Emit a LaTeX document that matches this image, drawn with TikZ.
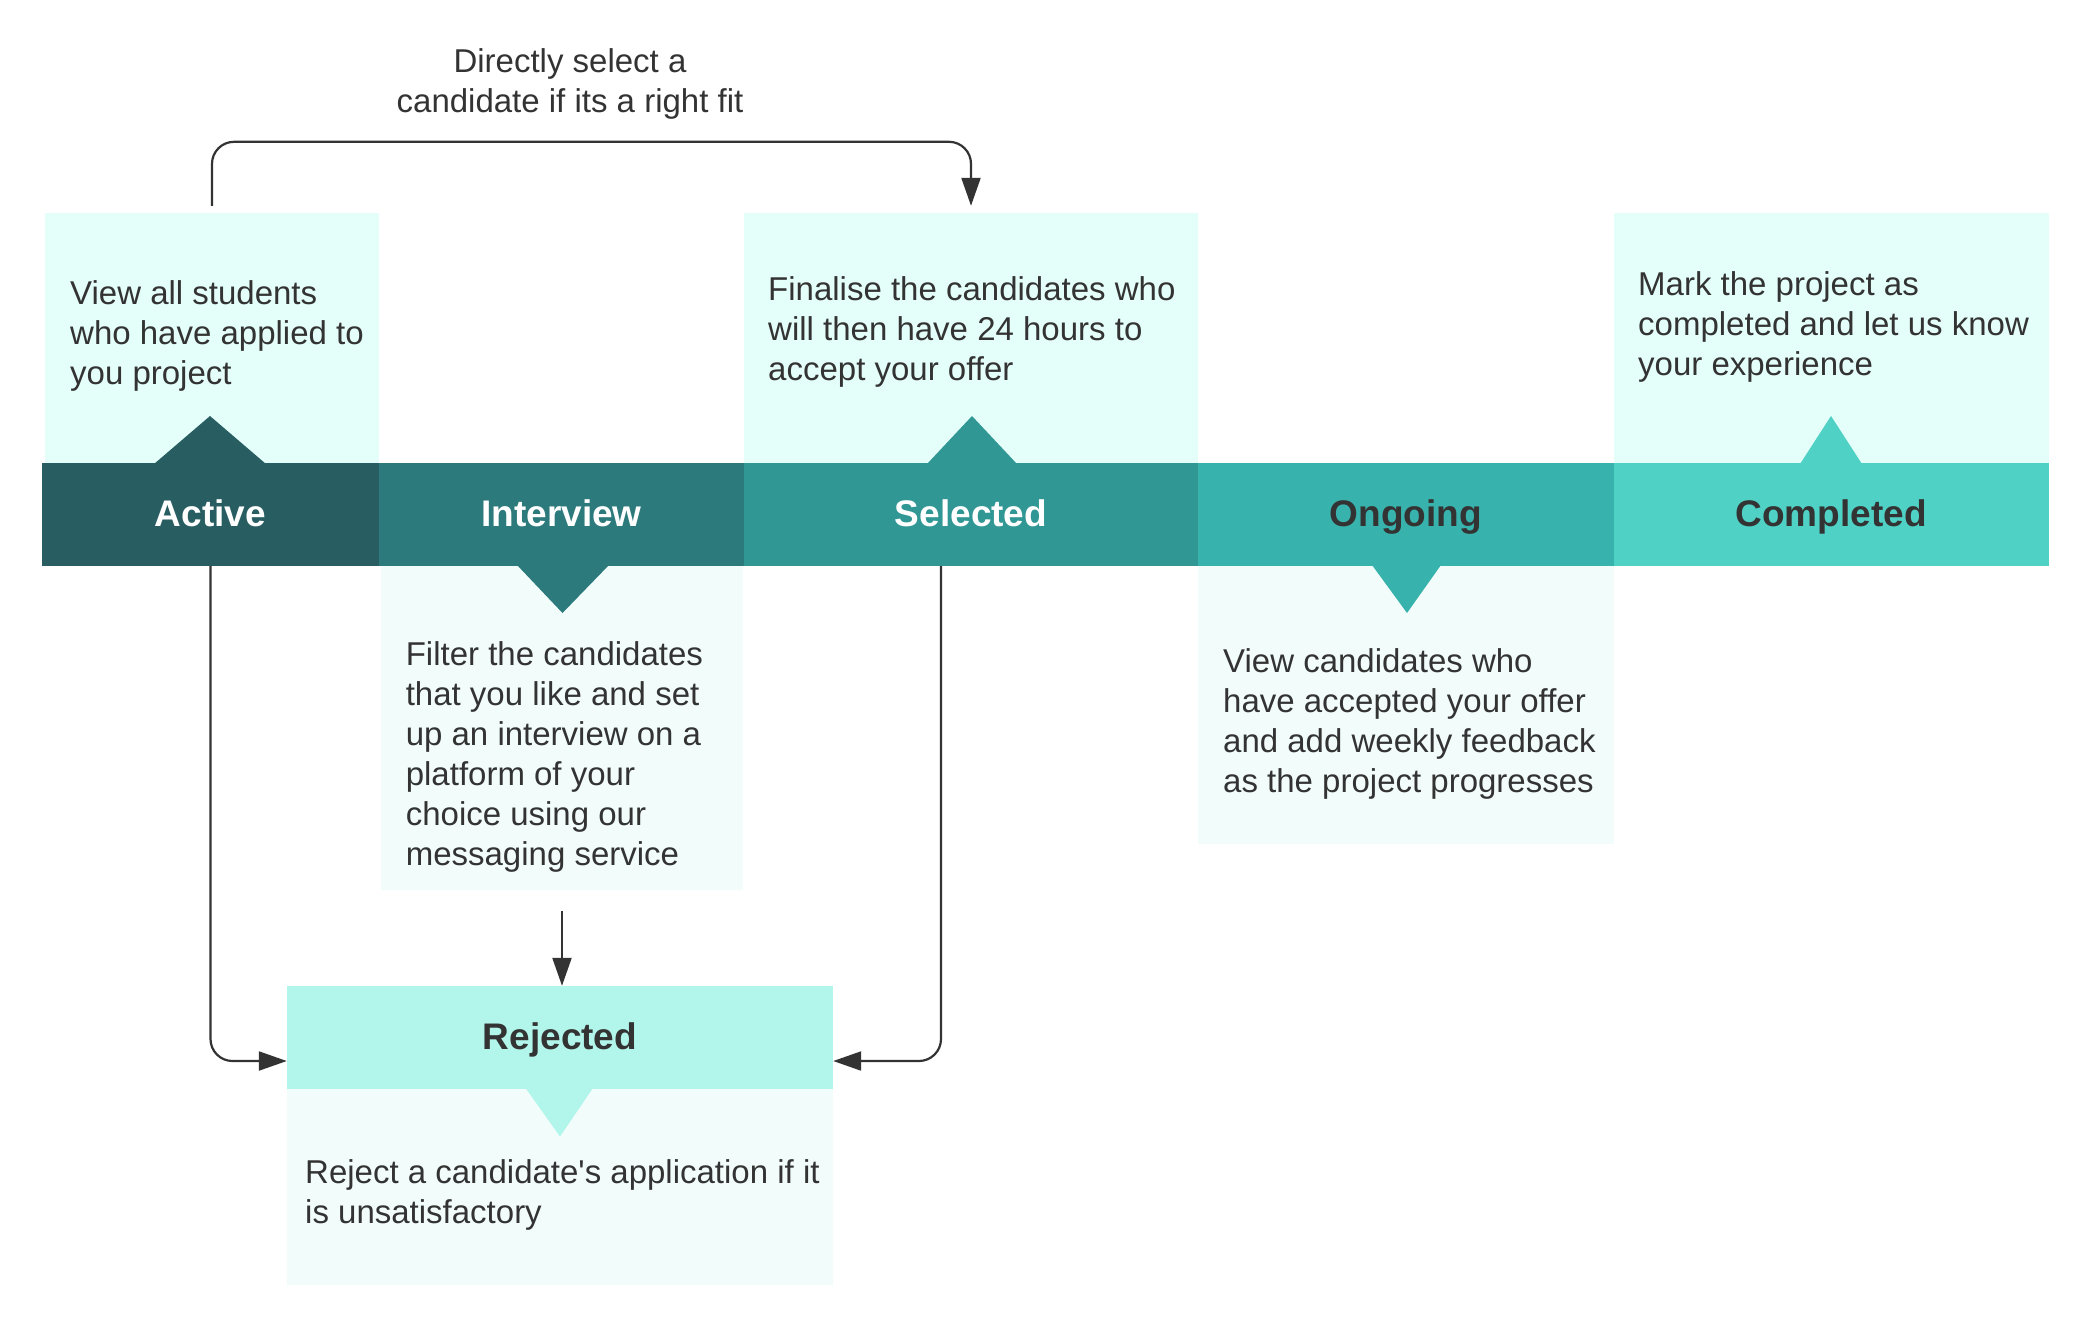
\documentclass[tikz,border=0pt]{standalone}
\usepackage{fontspec}
\setmainfont{Liberation Sans}
\usetikzlibrary{arrows.meta}
\definecolor{tealA}{HTML}{285E61}
\definecolor{tealB}{HTML}{2C7A7B}
\definecolor{tealC}{HTML}{319795}
\definecolor{tealD}{HTML}{38B2AC}
\definecolor{tealE}{HTML}{4FD1C5}
\definecolor{tealR}{HTML}{B2F5EA}
\definecolor{boxtop}{HTML}{E4FEF9}
\definecolor{boxbot}{HTML}{F2FDFB}
\definecolor{ink}{HTML}{333333}
\begin{document}
\begin{tikzpicture}[x=1pt,y=-1pt,
  seg/.style={rectangle, inner sep=0pt, minimum height=103pt,
    font=\fontsize{37}{44}\selectfont\bfseries, text height=26.5pt, text depth=3pt},
  panel/.style={rectangle, inner sep=0pt, draw=none},
  body/.style={anchor=base west, align=left, inner sep=0pt, text=ink,
    font=\fontsize{33}{40}\selectfont},
  conn/.style={draw=ink, line width=2.2pt, rounded corners=22pt,
    -{Triangle[length=28pt,width=19pt]}}]
\useasboundingbox (0,0) rectangle (2096,1326);

% panels
\node[panel, fill=boxtop, minimum width=334pt, minimum height=250pt] (abox) at (212,338) {};
\node[panel, fill=boxtop, minimum width=454pt, minimum height=250pt] (sbox) at (971,338) {};
\node[panel, fill=boxtop, minimum width=435pt, minimum height=250pt] (cbox) at (1831,338) {};
\node[panel, fill=boxbot, minimum width=362pt, minimum height=324pt] (ibox) at (562,728) {};
\node[panel, fill=boxbot, minimum width=415.5pt, minimum height=278pt] (obox) at (1405.75,705) {};
\node[panel, fill=boxbot, minimum width=546pt, minimum height=196pt] (rbody) at (560,1187) {};

% stage bar
\node[seg, fill=tealA, text=white, minimum width=337pt] (aseg) at (210.5,514.5) {Active};
\node[seg, fill=tealB, text=white, minimum width=365pt] (iseg) at (561.5,514.5) {Interview};
\node[seg, fill=tealC, text=white, minimum width=454pt] (sseg) at (971,514.5) {Selected};
\node[seg, fill=tealD, text=ink, minimum width=415.5pt] (oseg) at (1405.75,514.5) {Ongoing};
\node[seg, fill=tealE, text=ink, minimum width=435pt] (cseg) at (1831,514.5) {Completed};
\node[seg, fill=tealR, text=ink, minimum width=546pt] (rhead) at (560,1037.5) {Rejected};

% pointers
\fill[tealA] (154,464) -- (210,416) -- (266,464) -- cycle;
\fill[tealC] (927,464) -- (972,416) -- (1017,464) -- cycle;
\fill[tealE] (1800,464) -- (1831,416) -- (1862,464) -- cycle;
\fill[tealB] (517,565) -- (562.5,613) -- (609,565) -- cycle;
\fill[tealD] (1372,565) -- (1407,613) -- (1441,565) -- cycle;
\fill[tealR] (525.5,1088) -- (560,1136.5) -- (593,1088) -- cycle;

% texts (anchor = baseline of the last line)
\node[body] (atext) at (70,384) {View all students\\who have applied to\\you project};
\node[body] (stext) at (768,380) {Finalise the candidates who\\will then have 24 hours to\\accept your offer};
\node[body] (ctext) at (1638,375) {Mark the project as\\completed and let us know\\your experience};
\node[body] (itext) at (405.6,865) {Filter the candidates\\that you like and set\\up an interview on a\\platform of your\\choice using our\\messaging service};
\node[body] (otext) at (1223,792) {View candidates who\\have accepted your offer\\and add weekly feedback\\as the project progresses};
\node[body] (rtext) at (305,1223) {Reject a candidate\textquotesingle s application if it\\is unsatisfactory};
\node[body, anchor=base, align=center] (toplabel) at (570,112.5) {Directly select a\\candidate if its a right fit};

% connectors
\draw[conn] ([yshift=7pt]abox.north) -- ++(0,-64) -| ([yshift=7pt]sbox.north);
\draw[conn] (aseg.south) |- ([yshift=-23.5pt]rhead.west);
\draw[conn] ([xshift=-30pt]sseg.south) |- ([yshift=-23.5pt]rhead.east);
\draw[conn] ([yshift=-21pt]ibox.south) -- (ibox.south |- rhead.north);
\end{tikzpicture}
\end{document}
